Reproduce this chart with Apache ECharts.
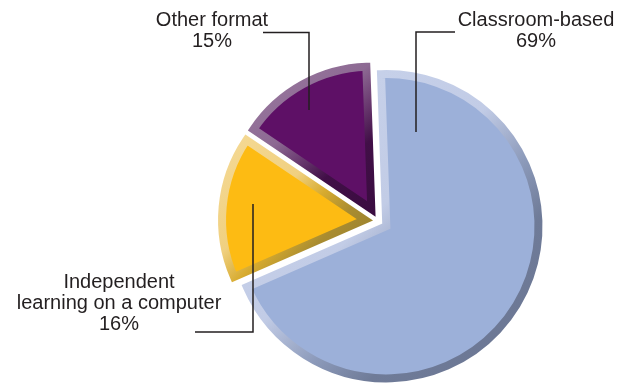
<!DOCTYPE html>
<html>
<head>
<meta charset="utf-8">
<script src="https://cdn.jsdelivr.net/npm/echarts@6/dist/echarts.min.js"></script>
<style>
  html, body { margin: 0; padding: 0; background: #ffffff; }
  #chart { width: 619px; height: 389px; }
</style>
</head>
<body>
<div id="chart"></div>
<script>
// Training format shares (percent)
const categories = ['Classroom-based', 'Independent\nlearning on a computer', 'Other format'];
const shares = [69, 16, 15];

// Slice fills and bevel (light edge -> dark edge) colours
const faceColors = ['#9cb0d9', '#fdbb13', '#5e1066'];
const bevelStops = [
  [[0, '#cad4ec'], [0.45, '#c2cce6'], [0.6, '#8c9aba'], [0.72, '#6f7b98'], [1, '#6a7592']],
  [[0, '#f5da97'], [0.4, '#f0d080'], [0.55, '#d7ab2f'], [0.7, '#a98c30'], [1, '#8f7a2f']],
  [[0, '#9c7ca2'], [0.4, '#8d6a93'], [0.55, '#6a3a70'], [0.7, '#410f47'], [1, '#3a0c40']]
];

// Label placement: text anchor (centre x, top y) and elbow leader points
const labelAnchors = [[536, 9.5], [119, 272], [212, 9.5]];
const leaderPoints = [
  [[416, 132], [416, 32], [455, 32]],
  [[253, 204], [253, 332], [195, 332]],
  [[309, 110], [309, 32.5], [263, 32.5]]
];

// Pie geometry
const pieCenter = [378, 221];
const startAngle = 92;          // ECharts convention, 90 = 12 o'clock
const explode = 5;              // visible slice offset
const sliceRadius = [161, 155, 155];
const bevelWidth = 8;

const chart = echarts.init(document.getElementById('chart'), null, { renderer: 'canvas' });

const total = shares.reduce((a, b) => a + b, 0);
const rad = Math.PI / 180;
let cum = 0;

// One pie series per slice so every slice gets its own exploded centre
const sliceSeries = shares.map((v, i) => {
  // angles measured clockwise from 12 o'clock
  const a0 = (90 - startAngle) + cum / total * 360;
  cum += v;
  const a1 = (90 - startAngle) + cum / total * 360;
  const mid = (a0 + a1) / 2 * rad;
  const half = (a1 - a0) / 2 * rad;
  const ux = Math.sin(mid), uy = -Math.cos(mid);
  // push the path apex so the outer edge of the bevel stroke lands on the exploded apex
  const hw = bevelWidth / 2;
  const shift = explode + hw / Math.abs(Math.sin(half));
  const r = sliceRadius[i] - hw - hw / Math.abs(Math.sin(half));
  return {
    type: 'pie',
    z: 2,
    center: [pieCenter[0] + shift * ux, pieCenter[1] + shift * uy],
    radius: [0, r],
    startAngle: startAngle,
    clockwise: true,
    silent: true,
    emphasis: { disabled: true },
    label: { show: false },
    labelLine: { show: false },
    data: categories.map((name, j) => {
      if (j !== i) {
        return {
          name: name, value: shares[j],
          itemStyle: { color: 'rgba(0,0,0,0)', borderWidth: 0 }
        };
      }
      return {
        name: name, value: shares[j],
        itemStyle: {
          color: faceColors[j],
          borderColor: new echarts.graphic.LinearGradient(0, 0, 1, 1,
            bevelStops[j].map(s => ({ offset: s[0], color: s[1] }))),
          borderWidth: bevelWidth,
          borderJoin: 'miter',
          borderMiterLimit: 20
        }
      };
    })
  };
});

// Labels and elbow leaders, drawn above the slices
const labelSeries = {
  type: 'pie',
  z: 5,
  center: pieCenter,
  radius: [0, sliceRadius[0]],
  startAngle: startAngle,
  clockwise: true,
  silent: true,
  avoidLabelOverlap: false,
  emphasis: { disabled: true },
  itemStyle: { color: 'rgba(0,0,0,0)', borderWidth: 0 },
  label: {
    show: true,
    position: 'outside',
    formatter: '{b}\n{c}%',
    fontFamily: 'Liberation Sans, Arial, sans-serif',
    fontSize: 20,
    lineHeight: 21,
    color: '#231f20',
    align: 'center'
  },
  labelLine: {
    show: true,
    smooth: false,
    lineStyle: { color: '#231f20', width: 1.5 }
  },
  labelLayout: function (p) {
    return {
      x: labelAnchors[p.dataIndex][0],
      y: labelAnchors[p.dataIndex][1],
      align: 'center',
      verticalAlign: 'top',
      labelLinePoints: leaderPoints[p.dataIndex]
    };
  },
  data: categories.map((name, j) => ({ name: name, value: shares[j] }))
};

chart.setOption({
  animation: false,
  backgroundColor: '#ffffff',
  series: sliceSeries.concat([labelSeries])
});
</script>
</body>
</html>
